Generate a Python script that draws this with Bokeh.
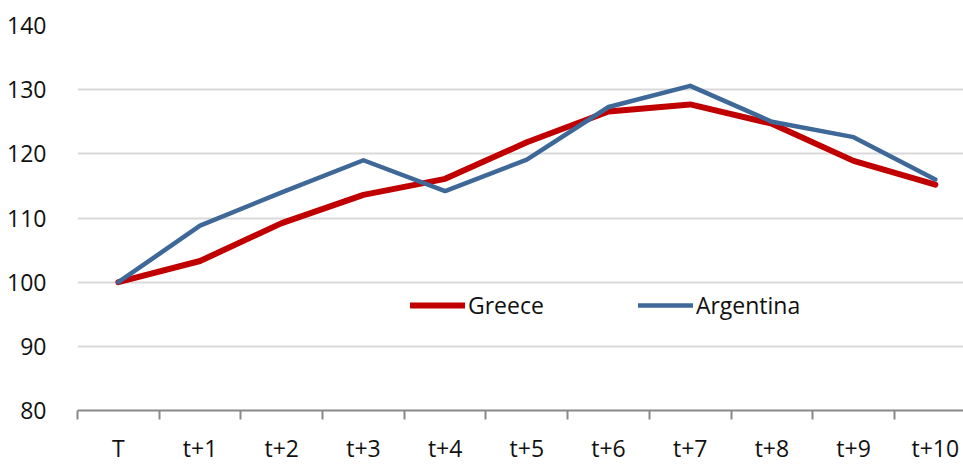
from bokeh.plotting import figure
from bokeh.models import Range1d, FixedTicker, Legend, LegendItem
from bokeh.embed import file_html
from bokeh.resources import INLINE

categories = ["T", "t+1", "t+2", "t+3", "t+4", "t+5", "t+6", "t+7", "t+8", "t+9", "t+10"]
greece = [100.0, 103.3, 109.2, 113.6, 116.1, 121.8, 126.6, 127.7, 124.7, 118.9, 115.2]
argentina = [100.0, 108.8, 114.0, 119.0, 114.2, 119.1, 127.3, 130.6, 125.0, 122.6, 116.0]
y_ticks = [80, 90, 100, 110, 120, 130, 140]

xs = list(range(len(categories)))
FONT = "Open Sans"

p = figure(width=963, height=466, output_backend="svg", toolbar_location=None,
           x_range=Range1d(-0.5, 10.345), y_range=Range1d(80, 140),
           min_border_left=77, min_border_right=0, min_border_top=25, min_border_bottom=45)
p.outline_line_color = None
p.background_fill_color = "white"
p.border_fill_color = "white"

# grid
p.xgrid.grid_line_color = None
p.ygrid.grid_line_color = "#D9D9D9"
p.ygrid.grid_line_width = 2
p.ygrid.ticker = FixedTicker(ticks=y_ticks)

# y axis
p.yaxis.ticker = FixedTicker(ticks=y_ticks)
p.yaxis.axis_line_color = None
p.yaxis.major_tick_line_color = None
p.yaxis.minor_tick_line_color = None
p.yaxis.major_label_text_font = FONT
p.yaxis.major_label_text_font_size = "23px"
p.yaxis.major_label_text_color = "#111111"
p.yaxis.major_label_standoff = 25

# x axis
p.xaxis.ticker = FixedTicker(ticks=xs, minor_ticks=[i - 0.5 for i in xs])
p.xaxis.major_label_overrides = {i: c for i, c in zip(xs, categories)}
p.xaxis.axis_line_color = "#898989"
p.xaxis.axis_line_width = 2
p.xaxis.major_tick_line_color = None
p.xaxis.major_tick_out = 0
p.xaxis.major_tick_in = 0
p.xaxis.minor_tick_line_color = "#898989"
p.xaxis.minor_tick_line_width = 2
p.xaxis.minor_tick_out = 9
p.xaxis.minor_tick_in = 0
p.xaxis.major_label_text_font = FONT
p.xaxis.major_label_text_font_size = "23px"
p.xaxis.major_label_text_color = "#111111"
p.xaxis.major_label_standoff = 12

r_gr = p.line(xs, greece, line_color="#C00000", line_width=6, line_join="round", line_cap="round")
r_ar = p.line(xs, argentina, line_color="#3E6898", line_width=4.5, line_join="round", line_cap="round")

legend = Legend(items=[LegendItem(label="Greece", renderers=[r_gr]),
                       LegendItem(label="Argentina", renderers=[r_ar])],
                orientation="horizontal", location=(333, 89))
legend.background_fill_alpha = 0
legend.border_line_color = None
legend.padding = 0
legend.margin = 0
legend.spacing = 94
legend.glyph_width = 55
legend.glyph_height = 22
legend.label_standoff = 3
legend.label_text_font = FONT
legend.label_text_font_size = "23px"
legend.label_text_color = "#111111"
p.add_layout(legend, "center")

open("out.html", "w").write(file_html(p, INLINE))
